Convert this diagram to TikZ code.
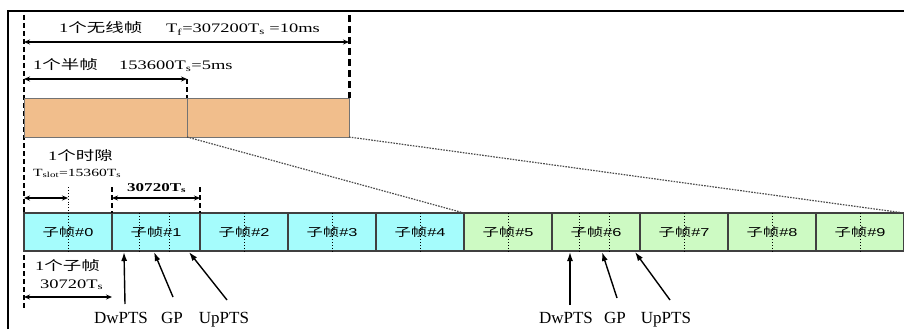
\documentclass[tikz,border=0pt]{standalone}
\usepackage{fontspec}
\setmainfont{Liberation Serif}
\newfontfamily\cjkw[FakeStretch=1.42]{Noto Sans CJK SC}
\newfontfamily\serw[FakeStretch=1.42]{Liberation Serif}
\newfontfamily\sansw[FakeStretch=1.42]{Liberation Sans}
\usetikzlibrary{arrows.meta,calc}

\definecolor{barc}{RGB}{241,190,140}
\definecolor{sfdl}{RGB}{165,252,252}
\definecolor{sful}{RGB}{205,250,195}

\tikzset{
  sfbox/.style={draw=black!75, line width=1.1pt, minimum width=88pt, minimum height=38pt,
    inner sep=0pt, outer sep=0pt, anchor=north west, font=\fontsize{11.5}{12}\selectfont},
  halfbox/.style={draw=black!55, line width=0.9pt, fill=barc, minimum height=39pt,
    inner sep=0pt, outer sep=0pt, anchor=north west},
  guide/.style={line width=1.8pt, dash pattern=on 5pt off 3pt},
  guidethick/.style={line width=3pt, dash pattern=on 7pt off 4pt},
  slotln/.style={line width=0.9pt, dotted},
  zoomln/.style={line width=1.2pt, dash pattern=on 1.6pt off 1.2pt, black!70},
  dimarrow/.style={{Stealth[length=6pt,width=5pt]}-{Stealth[length=6pt,width=5pt]}, line width=1.1pt},
  ptr/.style={-{Latex[length=9pt,width=6pt]}, line width=1.4pt},
  lbl/.style={inner sep=0pt, anchor=base west, font=\fontsize{13}{15}\selectfont},
  part/.style={inner sep=1pt, anchor=base, font=\fontsize{17}{19}\selectfont}
}

\begin{document}
\begin{tikzpicture}[x=1pt, y=-1pt]
\useasboundingbox (0,0) rectangle (904,329);

% frame
\draw[line width=1.5pt] (8,329) -- (8,11) -- (904,11);

% guide lines behind the boxes
\draw[guide] (24,15) -- (24,310);
\draw[guidethick] (349,15) -- (349,98);
\draw[line width=2pt, dash pattern=on 5pt off 3pt] (187,79) -- (187,98);

% radio frame split into two half-frames
\node[halfbox, minimum width=163pt] (h1) at (24,98) {};
\node[halfbox, minimum width=162pt] (h2) at (187,98) {};

% ten subframes
\foreach \i in {0,...,4}
  \node[sfbox, fill=sfdl] (s\i) at ({24+88*\i},213) {{\cjkw 子帧}{\sansw\#\i}};
\foreach \i in {5,...,9}
  \node[sfbox, fill=sful] (s\i) at ({24+88*\i},213) {{\cjkw 子帧}{\sansw\#\i}};

% slot boundaries inside each subframe
\foreach \i in {0,2,3,4,5,7,8,9}
  \draw[slotln] (s\i.north) -- (s\i.south);
\foreach \i in {1,6} {
  \draw[slotln] ($(s\i.north west)+(27,0)$) -- ($(s\i.south west)+(27,0)$);
  \draw[slotln] ($(s\i.north west)+(57,0)$) -- ($(s\i.south west)+(57,0)$);
}
\draw[slotln] ($(s0.north)+(0,-26)$) -- (s0.north);
\draw[line width=2.4pt, dash pattern=on 5pt off 3pt] ($(s1.north west)+(0,-26)$) -- (s1.north west);
\draw[line width=2.4pt, dash pattern=on 5pt off 3pt] ($(s2.north west)+(0,-26)$) -- (s2.north west);

% expansion of the second half-frame
\draw[zoomln] (h1.south east) -- (s5.north west);
\draw[zoomln] (h2.south east) -- (s9.north east);

% dimension arrows
\draw[dimarrow] (24,42) -- (349,42);
\draw[dimarrow] (24,79) -- (h1.north east |- 0,79);
\draw[dimarrow] ($(s0.north west)+(0,-15)$) -- ($(s0.north)+(0,-15)$);
\draw[dimarrow] ($(s1.north west)+(0,-15)$) -- ($(s1.north east)+(0,-15)$);
\draw[dimarrow] ($(s0.south west)+(0,46)$) -- ($(s0.south east)+(0,46)$);

% labels
\node[lbl] (l1a) at (59,33) {{\serw 1}{\cjkw 个无线帧}};
\node[lbl] (l1b) at (166,33) {\serw T\textsubscript{f}=307200T\textsubscript{s} =10ms};
\node[lbl] (l2a) at (33,70) {{\serw 1}{\cjkw 个半帧}};
\node[lbl] (l2b) at (119,70) {\serw 153600T\textsubscript{s}=5ms};
\node[lbl] (l3a) at (48,160) {{\serw 1}{\cjkw 个时隙}};
\node[lbl, font=\fontsize{11}{13}\selectfont] (l3b) at (33,176) {\serw T\textsubscript{slot}=15360T\textsubscript{s}};
\node[lbl, font=\fontsize{12}{14}\selectfont\bfseries] (l4) at (127,191) {\serw 30720T\textsubscript{s}};
\node[lbl] (l5a) at (35,270) {{\serw 1}{\cjkw 个子帧}};
\node[lbl] (l5b) at (40,288) {\serw 30720T\textsubscript{s}};

% special subframe fields
\node[part] (dw1) at (121,323) {DwPTS};
\node[part] (gp1) at (172,323) {GP};
\node[part] (up1) at (224,323) {UpPTS};
\node[part] (dw6) at (566,323) {DwPTS};
\node[part] (gp6) at (615,323) {GP};
\node[part] (up6) at (666,323) {UpPTS};

\draw[ptr] (125,304) -- ($(s1.south west)+(12,1)$);
\draw[ptr] (173,297) -- ($(s1.south west)+(42,1)$);
\draw[ptr] (227,300) -- ($(s1.south west)+(77,1)$);
\draw[ptr] (570,305) -- ($(s6.south west)+(18,1)$);
\draw[ptr] (617,298) -- ($(s6.south west)+(50,1)$);
\draw[ptr] (670,300) -- ($(s6.south west)+(83,1)$);
\end{tikzpicture}
\end{document}
